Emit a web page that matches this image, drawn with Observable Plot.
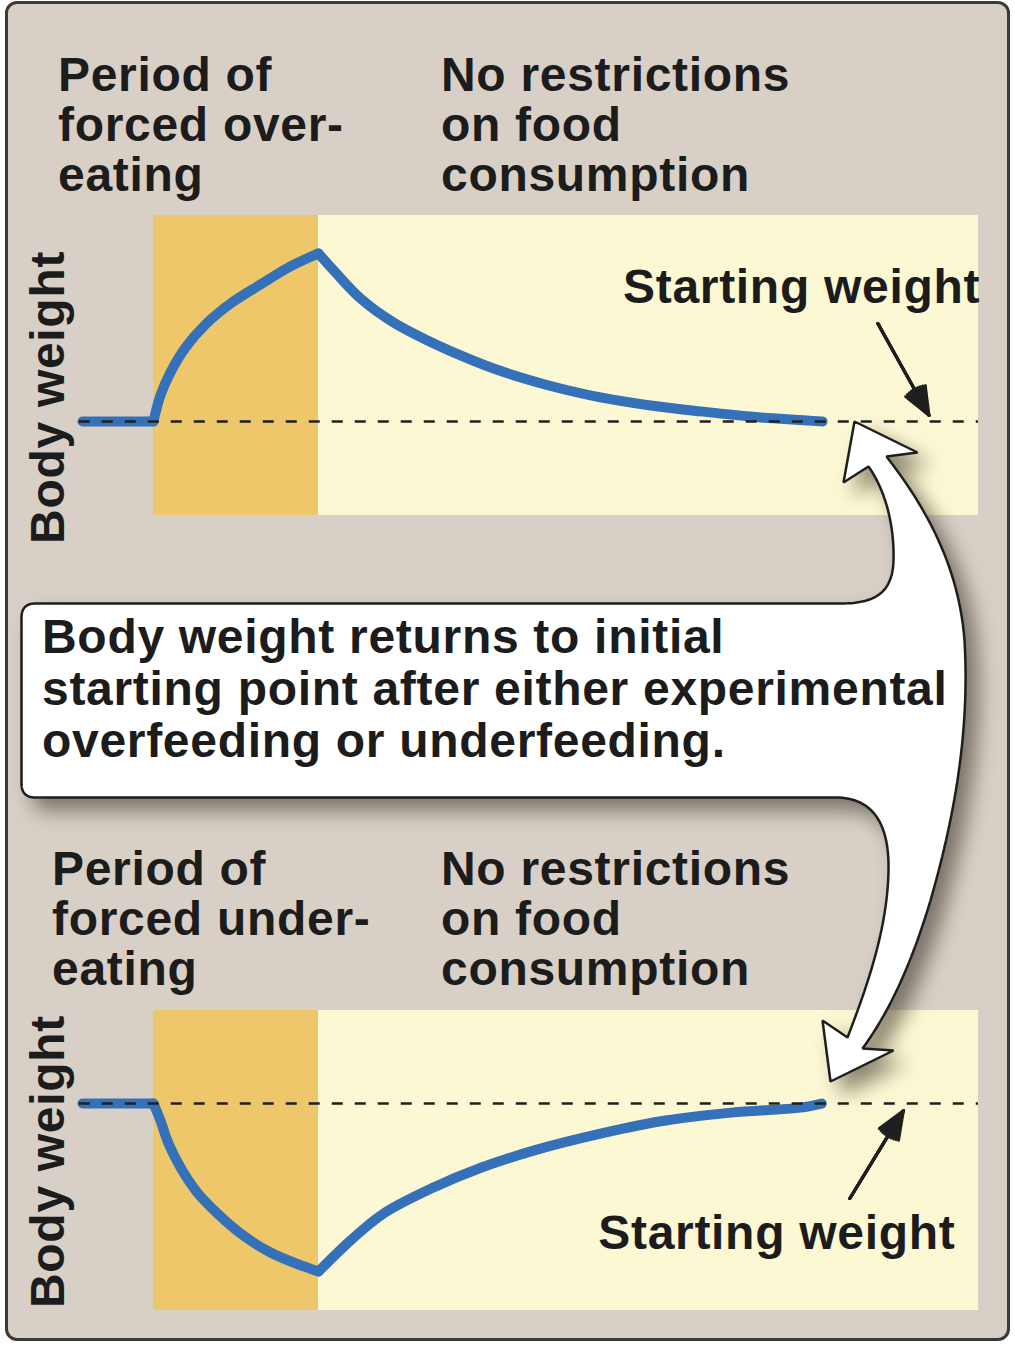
<!DOCTYPE html>
<html>
<head>
<meta charset="utf-8">
<script src="https://cdn.jsdelivr.net/npm/d3@7"></script>
<script src="https://cdn.jsdelivr.net/npm/@observablehq/plot@0.6"></script>
<style>
  body { margin: 0; background: #ffffff; }
  #wrap { position: relative; width: 1015px; height: 1348px; overflow: hidden;
          font-family: "Liberation Sans", Arial, Helvetica, sans-serif; }
  #frame { position: absolute; left: 5px; top: 1px; width: 1005px; height: 1340px; box-sizing: border-box;
           background: #d8d0c6; border: 3px solid #3a3a3a; border-radius: 12px; }
  .layer { position: absolute; left: 0; }
  .layer svg { overflow: visible; display: block; }
  .layer text { letter-spacing: 0.7px; font-family: "Liberation Sans", Arial, Helvetica, sans-serif; }
  .head { position: absolute; font-weight: bold; font-size: 48px; line-height: 50px; color: #1c1c1c;
          white-space: pre; letter-spacing: 0.7px; }
  #callout g[aria-label="line"] { filter: drop-shadow(12px 12px 10px rgba(50, 40, 30, 0.55)); }
  #calloutText { line-height: 52px; }
</style>
</head>
<body>
<div id="wrap">
  <div id="frame"></div>
  <div id="headTopL" class="head" style="left:58px;top:50px"></div>
  <div id="headTopR" class="head" style="left:441px;top:50px"></div>
  <div id="headBotL" class="head" style="left:52px;top:844px"></div>
  <div id="headBotR" class="head" style="left:441px;top:844px"></div>
  <div id="panelTop" class="layer" style="top:215px"></div>
  <div id="panelBottom" class="layer" style="top:1010px"></div>
  <div id="callout" class="layer" style="top:0"></div>
  <div id="calloutText" class="head" style="left:42px;top:611px"></div>
</div>
<script>
// ---------------- data ----------------
// phases (time in weeks, arbitrary units)
const phaseNames = ["forced", "free"];
const phaseStart = [0, 10];
const phaseEnd = [10, 50];

// flat starting stretch before the intervention
const preT = [-4.3, 0];
const preW = [0, 0];

// forced over-eating then free feeding (weight change, % of starting weight)
const overT = [0, 0.42, 1.03, 1.94, 3.15, 4.67, 6.48, 8.30, 10, 11.03, 12.55, 14.55, 16.61, 18.61, 20.61, 22.67, 24.67, 27.09, 30.12, 33.15, 36.79, 40.55];
const overW = [0, 1.55, 2.92, 4.40, 5.77, 7.02, 8.15, 9.23, 10, 8.87, 7.32, 5.89, 4.82, 3.93, 3.15, 2.5, 1.96, 1.43, 0.95, 0.6, 0.24, 0];

// forced under-eating then free feeding
const underT = [0, 0.42, 0.91, 1.64, 2.61, 3.88, 5.45, 7.09, 8.79, 10, 11.94, 13.94, 16.97, 19.88, 23.03, 27.09, 31.03, 35.03, 39.2, 40.5];
const underW = [0, -1.01, -2.38, -3.81, -5.24, -6.55, -7.86, -8.87, -9.58, -10, -8.15, -6.55, -5.0, -3.81, -2.80, -1.79, -1.01, -0.54, -0.24, 0];

const startingWeight = 0;
const referenceEnd = 50;

// texts
const headingsTop = ["Period of\nforced over-\neating", "No restrictions\non food\nconsumption"];
const headingsBottom = ["Period of\nforced under-\neating", "No restrictions\non food\nconsumption"];
const yLabel = "Body weight";
const refLabel = "Starting weight";
const calloutLines = ["Body weight returns to initial", "starting point after either experimental", "overfeeding or underfeeding."];

// ---------------- styles ----------------
const phaseColors = ["#efc76b", "#fdf8d4"];
const curveColor = "#3471b9";
const ink = "#1c1c1c";
const fontFamily = "'Liberation Sans', Arial, Helvetica, sans-serif";

// ---------------- build ----------------
const phases = phaseNames.map((name, i) => ({name, start: phaseStart[i], end: phaseEnd[i]}));

function segments(T, W) {
  const pts = T.map((t, i) => ({t, w: W[i]}));
  const out = preT.map((t, i) => ({t, w: preW[i], seg: "pre"}));
  for (const ph of phases) {
    for (const d of pts) if (d.t >= ph.start && d.t <= ph.end) out.push({...d, seg: ph.name});
  }
  return out;
}

function panel({T, W, yDomain, bodyLabelAt, refAt, refAnchor, arrow}) {
  const arrowAngles = [44, 34, 24, 14, 5];
  return Plot.plot({
    width: 1015, height: 300, margin: 0,
    style: {background: "transparent", overflow: "visible", fontFamily},
    x: {domain: [phases[0].start, phases[0].end], range: [153, 318], axis: null},
    y: {domain: yDomain, axis: null},
    color: {domain: phaseNames, range: phaseColors},
    marks: [
      Plot.barX(phases, {x1: "start", x2: "end", fill: "name"}),
      Plot.line(segments(T, W), {x: "t", y: "w", z: "seg", stroke: curveColor, strokeWidth: 10,
        curve: "catmull-rom", strokeLinecap: "round", strokeLinejoin: "round"}),
      Plot.ruleY([{w: startingWeight, t1: preT[0] - 0.2, t2: referenceEnd}],
        {y: "w", x1: "t1", x2: "t2", stroke: "#1f1f1f", strokeWidth: 2.5, strokeDasharray: "11,12"}),
      Plot.text([yLabel], {x: bodyLabelAt[0], y: bodyLabelAt[1], text: d => d, rotate: -90,
        textAnchor: "middle", lineAnchor: "bottom", fontSize: 48, fontWeight: "bold", fill: ink}),
      Plot.text([refLabel], {x: refAt[0], y: refAt[1], text: d => d, textAnchor: refAnchor,
        lineAnchor: "bottom", fontSize: 48, fontWeight: "bold", fill: ink}),
      ...arrowAngles.map(a => Plot.arrow([arrow], {x1: "x1", y1: "y1", x2: "x2", y2: "y2",
        stroke: "#1f1f1f", strokeWidth: 3, headAngle: a, headLength: 15}))
    ]
  });
}

document.getElementById("panelTop").append(panel({
  T: overT, W: overW, yDomain: [-5.6, 12.26],
  bodyLabelAt: [-5.4, 1.43], refAt: [50.1, 7.08], refAnchor: "end",
  arrow: {x1: 43.9, y1: 5.83, x2: 47.0, y2: 0.36}
}));

document.getElementById("panelBottom").append(panel({
  T: underT, W: underW, yDomain: [-12.32, 5.54],
  bodyLabelAt: [-5.4, -3.45], refAt: [48.6, -8.63], refAnchor: "end",
  arrow: {x1: 42.2, y1: -5.65, x2: 45.45, y2: -0.42}
}));

// headings
document.getElementById("headTopL").textContent = headingsTop[0];
document.getElementById("headTopR").textContent = headingsTop[1];
document.getElementById("headBotL").textContent = headingsBottom[0];
document.getElementById("headBotR").textContent = headingsBottom[1];
document.getElementById("calloutText").textContent = calloutLines.join("\n");

// callout shape (annotation geometry, in page pixels)
const calloutPath = [
  ["M", 21, 617], ["Q", 21, 603, 35, 603], ["L", 840, 603],
  ["C", 875, 603, 892, 592, 893, 560], ["C", 894, 525, 885, 490, 868, 466],
  ["L", 843, 482], ["L", 854, 421], ["L", 917, 452], ["L", 886, 456],
  ["C", 920, 500, 958, 560, 964, 640], ["C", 970, 740, 950, 830, 930, 900],
  ["C", 912, 960, 890, 1010, 862, 1048],
  ["L", 893, 1050], ["L", 830, 1081], ["L", 822, 1020], ["L", 847, 1037],
  ["C", 865, 990, 887, 930, 888, 870], ["C", 889, 820, 870, 797, 835, 797],
  ["L", 35, 797], ["Q", 21, 797, 21, 783], ["L", 21, 617]
];
function sample(cmds, n = 30) {
  const pts = []; let cx = 0, cy = 0;
  for (const [k, ...a] of cmds) {
    if (k === "M" || k === "L") { pts.push({x: a[0], y: a[1]}); cx = a[0]; cy = a[1]; }
    else if (k === "Q") {
      for (let i = 1; i <= n; i++) { const t = i / n, u = 1 - t;
        pts.push({x: u*u*cx + 2*u*t*a[0] + t*t*a[2], y: u*u*cy + 2*u*t*a[1] + t*t*a[3]}); }
      cx = a[2]; cy = a[3];
    } else if (k === "C") {
      for (let i = 1; i <= n; i++) { const t = i / n, u = 1 - t;
        pts.push({x: u*u*u*cx + 3*u*u*t*a[0] + 3*u*t*t*a[2] + t*t*t*a[4],
                  y: u*u*u*cy + 3*u*u*t*a[1] + 3*u*t*t*a[3] + t*t*t*a[5]}); }
      cx = a[4]; cy = a[5];
    }
  }
  return pts;
}
document.getElementById("callout").append(Plot.plot({
  width: 1015, height: 1348, margin: 0,
  style: {background: "transparent", overflow: "visible"},
  x: {domain: [0, 1015], range: [0, 1015], axis: null},
  y: {domain: [0, 1348], range: [0, 1348], axis: null},
  marks: [
    Plot.line(sample(calloutPath), {x: "x", y: "y", fill: "white", stroke: "#1e1e1e", strokeWidth: 2.5, strokeLinejoin: "miter"})
  ]
}));
</script>
</body>
</html>
